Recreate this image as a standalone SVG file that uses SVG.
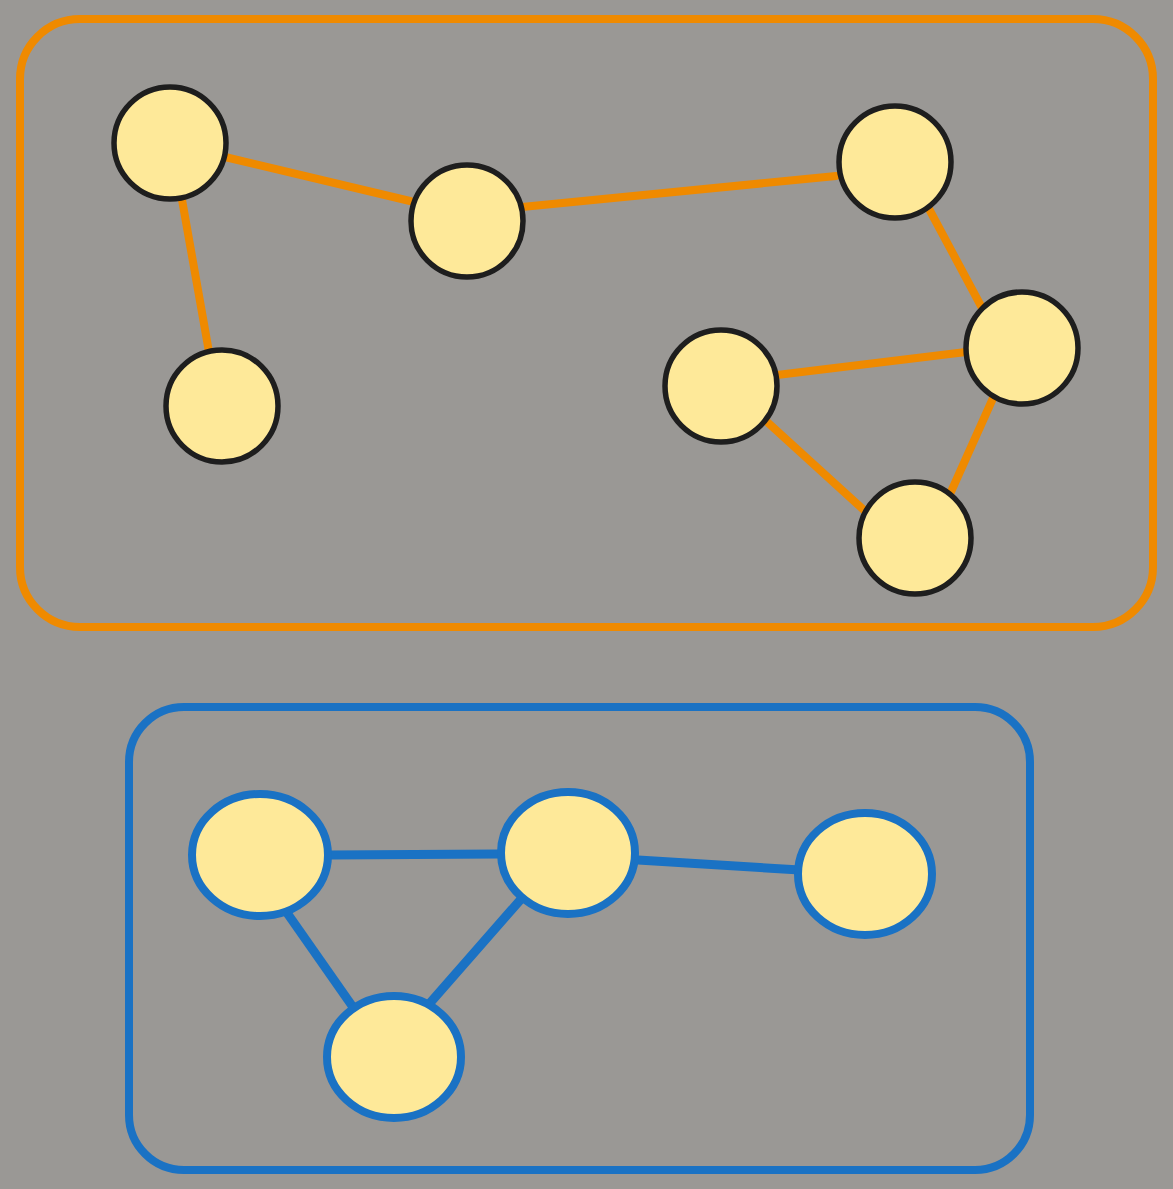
<svg xmlns="http://www.w3.org/2000/svg" width="1173" height="1189" viewBox="0 0 1173 1189">
<style>
.bo{fill:none;stroke:#ef8a00;stroke-width:8}
.bb{fill:none;stroke:#1a72c4;stroke-width:8}
.n{fill:#fee999;stroke:#1e1e1e;stroke-width:5.5}
.nb{fill:#fee999;stroke:#1a72c4;stroke-width:8}
.eo{stroke:#ef8a00;stroke-width:8;stroke-linecap:round;fill:none}
.eb{stroke:#1a72c4;stroke-width:9;stroke-linecap:round;fill:none}
</style>
<rect width="1173" height="1189" fill="#9a9895"/>
<g id="group-top"><rect class="bo" x="20" y="19" width="1133" height="608" rx="60"/></g>
<g id="group-bottom"><rect class="bb" x="129" y="707" width="901" height="463" rx="55"/></g>
<g id="connectors">
<line class="eo" x1="225" y1="157" x2="410" y2="201"/>
<line class="eo" x1="522" y1="207" x2="836" y2="176"/>
<line class="eo" x1="181" y1="194" x2="209" y2="352"/>
<line class="eo" x1="928" y1="207" x2="981" y2="306"/>
<line class="eo" x1="966" y1="352" x2="777" y2="375"/>
<line class="eo" x1="765" y1="420" x2="866" y2="512"/>
<line class="eo" x1="994" y1="396" x2="950" y2="494"/>
<line class="eb" x1="330" y1="855" x2="498" y2="854"/>
<line class="eb" x1="638" y1="860" x2="800" y2="870"/>
<line class="eb" x1="285" y1="910" x2="355" y2="1010"/>
<line class="eb" x1="522" y1="898" x2="430" y2="1003"/>
</g>
<g id="node-a"><circle class="n" cx="170" cy="143" r="56"/></g>
<g id="node-b"><circle class="n" cx="467" cy="221" r="56"/></g>
<g id="node-c"><circle class="n" cx="895" cy="162" r="56"/></g>
<g id="node-d"><circle class="n" cx="222" cy="406" r="56"/></g>
<g id="node-e"><circle class="n" cx="1022" cy="348" r="56"/></g>
<g id="node-f"><circle class="n" cx="721" cy="386" r="56"/></g>
<g id="node-g"><circle class="n" cx="915" cy="538" r="56"/></g>
<g id="node-h"><ellipse class="nb" cx="260" cy="855" rx="68" ry="61"/></g>
<g id="node-i"><ellipse class="nb" cx="568" cy="853" rx="67" ry="61"/></g>
<g id="node-j"><ellipse class="nb" cx="865" cy="874" rx="67" ry="61"/></g>
<g id="node-k"><ellipse class="nb" cx="394" cy="1057" rx="67" ry="61"/></g>
</svg>
